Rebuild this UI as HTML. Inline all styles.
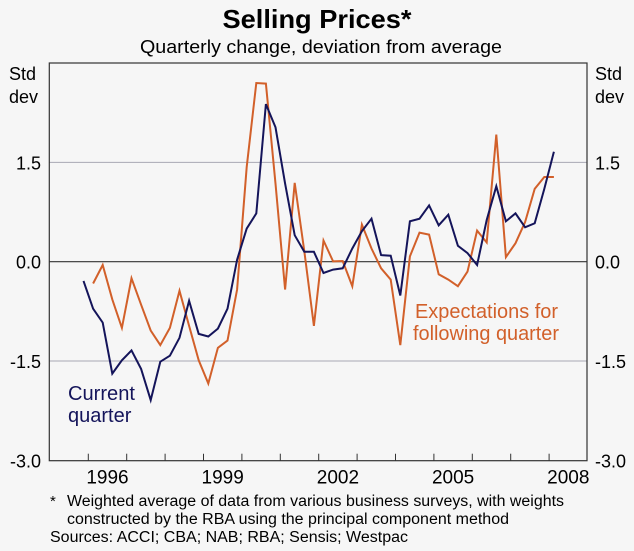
<!DOCTYPE html>
<html><head><meta charset="utf-8"><style>
body{margin:0;background:#f6f6f6;}
svg{display:block;font-family:"Liberation Sans",Arial,sans-serif;}
</style></head><body>
<svg id="chart" width="634" height="551" viewBox="0 0 634 551">
<rect width="634" height="551" fill="#f6f6f6"/>
<text x="317" y="28" text-anchor="middle" font-size="26" font-weight="bold" fill="#000" textLength="189" lengthAdjust="spacingAndGlyphs">Selling Prices*</text>
<text x="321" y="53" text-anchor="middle" font-size="18.5" fill="#000" textLength="362" lengthAdjust="spacingAndGlyphs">Quarterly change, deviation from average</text>
<text x="9" y="80" font-size="18">Std</text>
<text x="9" y="103" font-size="18">dev</text>
<text x="595" y="80" font-size="18">Std</text>
<text x="595" y="103" font-size="18">dev</text>
<g id="grid"></g>
<g id="series"></g>
<rect x="49.3" y="63" width="537.7" height="397.7" fill="none" stroke="#333" stroke-width="1.2"/>
<g id="axes"></g>
<text font-size="20" fill="#14145a"><tspan x="68" y="400" textLength="67" lengthAdjust="spacingAndGlyphs">Current</tspan><tspan x="68" y="422">quarter</tspan></text>
<text font-size="20" fill="#d2602a"><tspan x="415" y="318" textLength="143" lengthAdjust="spacingAndGlyphs">Expectations for</tspan><tspan x="413" y="340" textLength="146" lengthAdjust="spacingAndGlyphs">following quarter</tspan></text>
<text x="50" y="506" font-size="15">*</text>
<text x="67" y="506" font-size="15.5" textLength="497" lengthAdjust="spacingAndGlyphs">Weighted average of data from various business surveys, with weights</text>
<text x="67" y="524" font-size="15.5" textLength="442" lengthAdjust="spacingAndGlyphs">constructed by the RBA using the principal component method</text>
<text x="50" y="542" font-size="15.5" textLength="358" lengthAdjust="spacingAndGlyphs">Sources: ACCI; CBA; NAB; RBA; Sensis; Westpac</text>
</svg>
<script>
const yTicks=[1.5,0,-1.5,-3];
const yTickLabels=["1.5","0.0","-1.5","-3.0"];
const yearLabels=[1996,1999,2002,2005,2008];
const startTime=1995.875;
const currentQuarter=[-0.29,-0.71,-0.92,-1.69,-1.49,-1.34,-1.62,-2.09,-1.51,-1.42,-1.15,-0.59,-1.09,-1.13,-1.01,-0.71,0.03,0.5,0.73,2.38,2.03,1.18,0.4,0.15,0.15,-0.17,-0.12,-0.1,0.2,0.46,0.65,0.1,0.09,-0.51,0.61,0.65,0.85,0.55,0.71,0.24,0.13,-0.05,0.63,1.14,0.61,0.73,0.52,0.58,1.1,1.66];
const expectations=[-0.33,-0.05,-0.57,-1.0,-0.25,-0.65,-1.04,-1.26,-1.0,-0.44,-0.97,-1.49,-1.84,-1.3,-1.19,-0.42,1.43,2.7,2.69,1.18,-0.42,1.19,0.16,-0.97,0.32,0.005,0.01,-0.37,0.56,0.2,-0.1,-0.27,-1.26,0.08,0.44,0.41,-0.19,-0.27,-0.37,-0.15,0.47,0.29,1.92,0.07,0.28,0.6,1.1,1.28,1.28];
const NS="http://www.w3.org/2000/svg";
const L=49.3,R=587,T=63,B=460.7;
function yS(v){return 261.7-v*(99.3/1.5);}
function xS(t){return 88.3+(t-1996)*38.4;}
function mk(tag,attrs,parent){const e=document.createElementNS(NS,tag);for(const k in attrs)e.setAttribute(k,attrs[k]);parent.appendChild(e);return e;}
const grid=document.getElementById('grid'),axes=document.getElementById('axes'),series=document.getElementById('series');
yTicks.forEach((v,i)=>{
  if(v>-3){const ln=mk('line',{x1:L,x2:R,y1:yS(v),y2:yS(v),stroke:v===0?'#333':'#a8a8b4','stroke-width':v===0?1.2:1},grid);
  
  }
  const a=mk('text',{x:41,y:yS(v)+7,'text-anchor':'end','font-size':18},axes);a.textContent=yTickLabels[i];
  
  
  const b=mk('text',{x:595,y:yS(v)+7,'font-size':18},axes);b.textContent=yTickLabels[i];
  
  
});
for(let y=1996;y<=2008;y++){
  const t=mk('line',{x1:xS(y),x2:xS(y),y1:B,y2:B-7,stroke:'#333','stroke-width':1},axes);
  
  
}
yearLabels.forEach(y=>{
  const t=mk('text',{x:xS(y+0.5),y:B+23,'text-anchor':'middle','font-size':19},axes);t.textContent=y;
  
  
});
function line(data,offset,color,name){
  const pts=data.map((v,i)=>xS(startTime+(i+offset)*0.25).toFixed(1)+','+yS(v).toFixed(1)).join(' ');
  const p=mk('polyline',{points:pts,fill:'none',stroke:color,'stroke-width':2,'stroke-linejoin':'miter'},series);
  
  
}
line(expectations,1,'#d2602a','expectations-line');
line(currentQuarter,0,'#14145a','current-quarter-line');
</script>
</body></html>
